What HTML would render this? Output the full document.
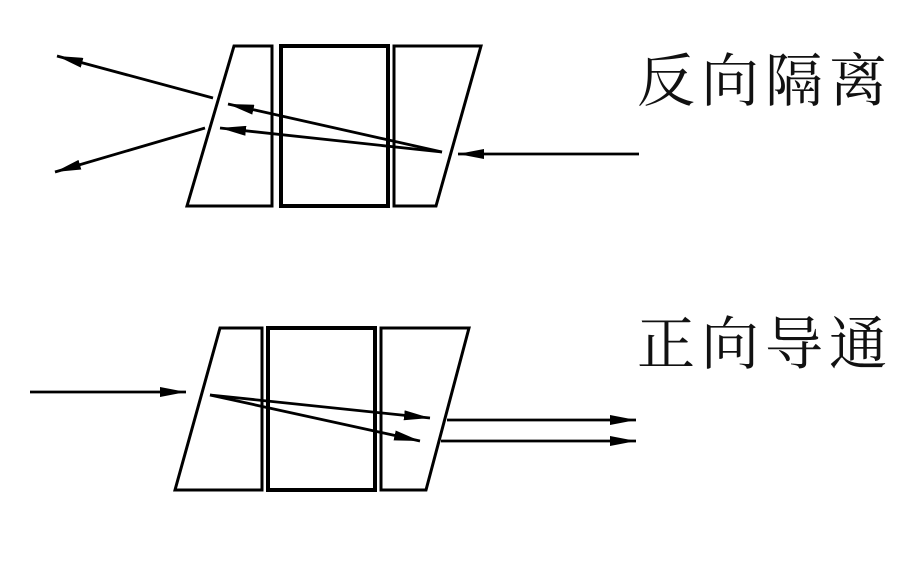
<!DOCTYPE html>
<html><head><meta charset="utf-8"><style>
body{margin:0;background:#fff;}
.t{position:absolute;font-family:"Liberation Serif","Noto Serif CJK SC",serif;font-size:58px;line-height:1;color:#111;letter-spacing:6px}
</style></head><body>
<div style="position:relative;width:924px;height:580px;overflow:hidden">
<svg width="924" height="580" style="position:absolute;left:0;top:0">
<defs>
<marker id="b" markerWidth="26" markerHeight="10" refX="26" refY="5" orient="auto" markerUnits="userSpaceOnUse" viewBox="0 0 26 10"><path d="M0,0 L26,5 L0,10 Z" fill="#000"/></marker></defs>
<g fill="none" stroke="#000" stroke-width="3">
<polygon points="234,46 272,46 272,206 187,206"/>
<rect x="281" y="46" width="107" height="160" stroke-width="4"/>
<polygon points="394,46 481,46 436,206 394,206"/>
<polygon points="220,328 262,328 262,490 175,490"/>
<rect x="268" y="328" width="107" height="162" stroke-width="4"/>
<polygon points="381,328 469,328 426,490 381,490"/>
</g>
<g stroke="#000" stroke-width="2.8" fill="none">
<line x1="639" y1="154" x2="458" y2="154" marker-end="url(#b)"/>
<line x1="442" y1="152" x2="228" y2="104" marker-end="url(#b)"/>
<line x1="442" y1="152" x2="220" y2="128" marker-end="url(#b)"/>
<line x1="213" y1="98" x2="57" y2="56" marker-end="url(#b)"/>
<line x1="205" y1="128" x2="55" y2="172" marker-end="url(#b)"/>
<line x1="30" y1="392" x2="186" y2="392" marker-end="url(#b)"/>
<line x1="210" y1="395" x2="430" y2="418" marker-end="url(#b)"/>
<line x1="210" y1="395" x2="420" y2="441" marker-end="url(#b)"/>
<line x1="447" y1="420" x2="636" y2="420" marker-end="url(#b)"/>
<line x1="441" y1="441" x2="636" y2="441" marker-end="url(#b)"/>
</g>
</svg>
<div class="t" style="left:637px;top:53px">反向隔离</div>
<div class="t" style="left:637px;top:316px">正向导通</div>
</div>
</body></html>
